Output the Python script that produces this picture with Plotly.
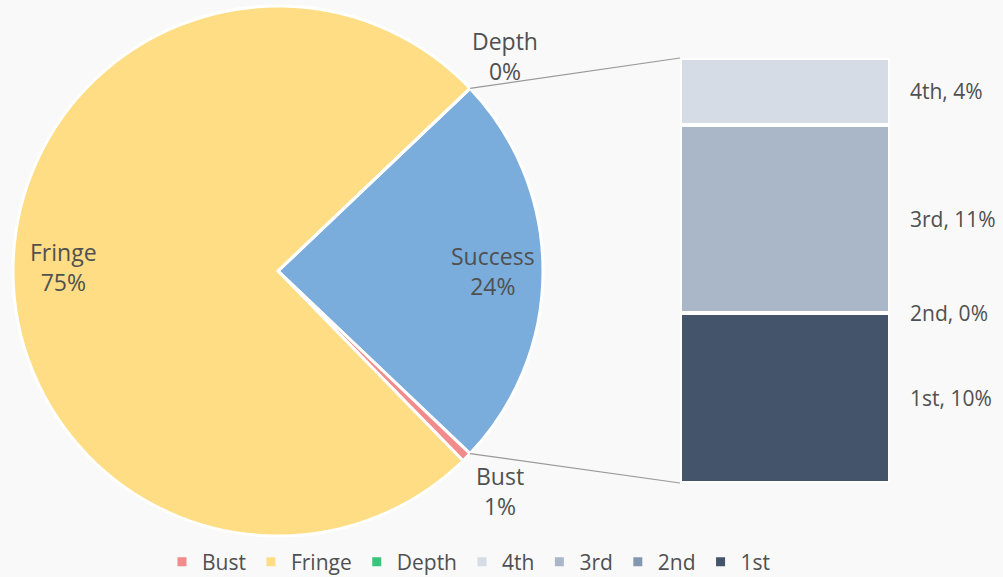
import math
import plotly.graph_objects as go

# ---- data ----
pie_labels = ["Success", "Bust", "Fringe", "Depth"]
pie_values = [24.2, 0.6, 75.2, 0]
pie_colors = ["#7aaddc", "#f28b8b", "#fedd84", "#3cc47c"]

bar_labels = ["1st", "2nd", "3rd", "4th"]      # bottom -> top
bar_values = [9.7, 0.0, 10.7, 3.8]
bar_colors = ["#44546a", "#8397b1", "#aab7c9", "#d5dce6"]

legend_order = ["Bust", "Fringe", "Depth", "4th", "3rd", "2nd", "1st"]

W, H = 1003, 577
BG = "#f9f9f9"
TXT = "#505050"
FONT = "Open Sans"

# ---- geometry (pixels) ----
cx, cy, R = 278, 271, 265
bar_x0, bar_x1 = 680, 890
bar_ytop, bar_ybot = 58, 483

def px(x):
    return x / W

def py(y):
    return 1 - y / H

total = sum(pie_values)
succ_deg = pie_values[0] / total * 360
rotation = 90 - succ_deg / 2

fig = go.Figure()

fig.add_trace(go.Pie(
    labels=pie_labels, values=pie_values, sort=False, direction="clockwise",
    rotation=rotation, textinfo="none", hoverinfo="label+percent",
    marker=dict(colors=pie_colors, line=dict(color="white", width=3)),
    domain=dict(x=[px(cx - R), px(cx + R)], y=[py(cy + R), py(cy - R)]),
    showlegend=False,
))

for lab, val, col in zip(bar_labels, bar_values, bar_colors):
    fig.add_trace(go.Bar(
        x=["Success"], y=[val], name=lab,
        marker=dict(color=col, line=dict(color="white", width=4)),
        showlegend=False, hoverinfo="name+y",
    ))

# legend entries
color_map = dict(zip(pie_labels, pie_colors))
color_map.update(dict(zip(bar_labels, bar_colors)))
for lab in legend_order:
    fig.add_trace(go.Scatter(
        x=[None], y=[None], mode="markers", name=lab,
        marker=dict(symbol="square", size=9, color=color_map[lab]),
    ))

# pie labels
annotations = []
start = rotation
for lab, val in zip(pie_labels, pie_values):
    span = val / total * 360
    mid = math.radians(start + span / 2)
    inside = val / total >= 0.05
    rf = 0.81 if inside else 1.18
    x = cx + rf * R * math.sin(mid)
    y = cy - rf * R * math.cos(mid)
    annotations.append(dict(
        x=px(x), y=py(y), xref="paper", yref="paper", showarrow=False,
        xanchor="center", yanchor="middle",
        text=f"{lab}<br>{round(val / total * 100)}%", align="center",
        font=dict(family=FONT, size=23, color=TXT),
    ))
    start += span

# bar labels
cum = 0
for lab, val in zip(bar_labels, bar_values):
    annotations.append(dict(
        x=px(bar_x1 + 18), y=cum + val / 2, xref="paper", yref="y", showarrow=False,
        xanchor="left", yanchor="middle", text=f"{lab}, {round(val)}%",
        font=dict(family=FONT, size=21, color=TXT),
    ))
    cum += val
bar_total = cum

# connector lines
a0 = math.radians(rotation)
a1 = math.radians(rotation + succ_deg)
shapes = [
    dict(type="line", xref="paper", yref="paper",
         x0=px(cx + R * math.sin(a0)), y0=py(cy - R * math.cos(a0)),
         x1=px(bar_x0), y1=py(bar_ytop), line=dict(color="#999999", width=1.2)),
    dict(type="line", xref="paper", yref="paper",
         x0=px(cx + R * math.sin(a1)), y0=py(cy - R * math.cos(a1)),
         x1=px(bar_x0), y1=py(bar_ybot), line=dict(color="#999999", width=1.2)),
]

fig.update_layout(
    width=W, height=H, margin=dict(l=0, r=0, t=0, b=0, autoexpand=False),
    paper_bgcolor=BG, plot_bgcolor=BG,
    barmode="stack", bargap=0,
    xaxis=dict(domain=[px(bar_x0), px(bar_x1)], visible=False, fixedrange=True),
    yaxis=dict(domain=[py(bar_ybot), py(bar_ytop)], range=[0, bar_total], visible=False, fixedrange=True),
    annotations=annotations, shapes=shapes,
    legend=dict(orientation="h", x=px(469), xanchor="center", y=py(562), yanchor="middle",
                font=dict(family=FONT, size=21, color=TXT), bgcolor="rgba(0,0,0,0)",
                itemwidth=30, traceorder="normal"),
    font=dict(family=FONT, color=TXT),
)

fig.write_html("out.html", config={"displayModeBar": False},
               post_script="document.body.style.margin='0';")
